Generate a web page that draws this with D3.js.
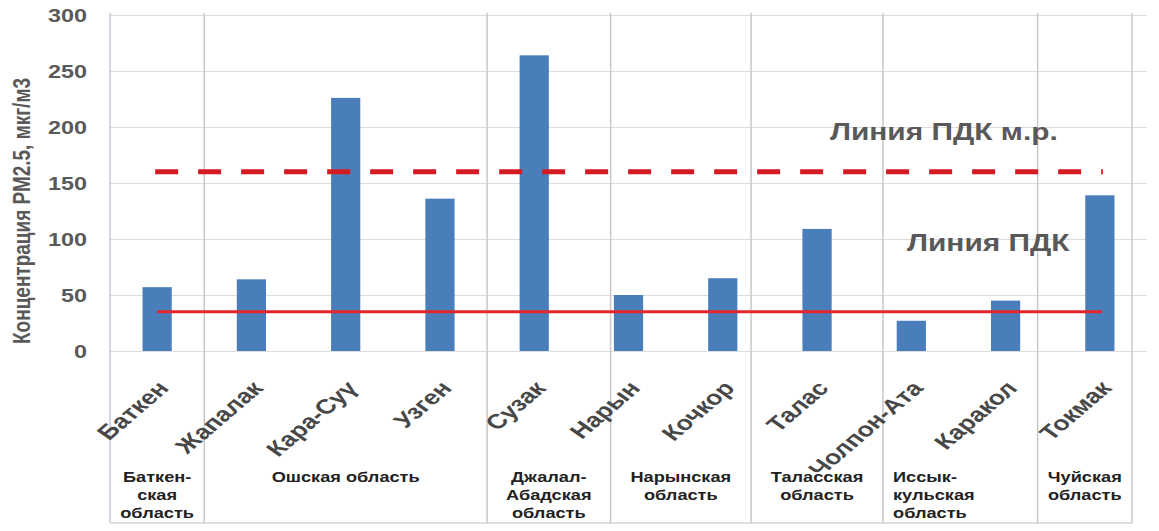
<!DOCTYPE html>
<html><head><meta charset="utf-8">
<script src="https://cdn.jsdelivr.net/npm/d3@7"></script>
<style>html,body{margin:0;padding:0;background:#fff;} svg{display:block;}</style>
</head><body><svg id="chart"></svg>
<script>
// Monitoring stations and measured PM2.5 concentration, µg/m3
const stations = ["Баткен","Жапалак","Кара-Суү","Узген","Сузак","Нарын","Кочкор","Талас","Чолпон-Ата","Каракол","Токмак"];
const pm25 = [57, 64, 226, 136, 264, 50, 65, 109, 27, 45, 139];
const yTicks = [0, 50, 100, 150, 200, 250, 300];
const pdkDaily = 35;     // ПДК (среднесуточная)
const pdkMax = 160;      // ПДК м.р. (максимально разовая)
const lineLabels = ["Линия ПДК м.р.", "Линия ПДК"];
const yTitle = "Концентрация РМ2.5, мкг/м3";
// Oblasts and number of stations in each, in station order
const regionLabels = [["Баткен-","ская","область"],["Ошская область"],["Джалал-","Абадская","область"],["Нарынская","область"],["Таласская","область"],["Иссык-","кульская","область"],["Чуйская","область"]];
const regionSizes = [1, 3, 1, 2, 1, 2, 1];

const W = 1159, H = 531;
const SX = 1.3;                 // the whole drawing is stretched 1.3x horizontally
const VW = W / SX;
const px = v => v / SX;         // screen px -> view units (horizontal)

const svg = d3.select("#chart")
  .attr("width", W).attr("height", H)
  .attr("viewBox", `0 0 ${VW} ${H}`)
  .attr("preserveAspectRatio", "none");

const plot = { left: px(110), right: px(1147), top: 15, bottom: 351 };
const FONT = "'Liberation Sans', Arial, sans-serif";

const x = d3.scaleBand().domain(stations).range([plot.left, plot.right])
  .paddingInner(0.69).paddingOuter(0.345);
const y = d3.scaleLinear().domain([0, 300]).range([plot.bottom, plot.top]);
const cx = s => x(s) + x.bandwidth() / 2;

// horizontal gridlines + value labels
const yAxis = svg.append("g").attr("transform", `translate(${plot.left},0)`)
  .call(d3.axisLeft(y).tickValues(yTicks).tickSize(-(plot.right - plot.left)).tickPadding(px(23)));
yAxis.select(".domain").remove();
yAxis.selectAll(".tick line").attr("stroke", "#dcdcdc").attr("stroke-width", 1);
yAxis.selectAll(".tick text")
  .attr("font-family", FONT).attr("font-weight", "bold").attr("font-size", 18)
  .attr("fill", "#595959").attr("dy", "0.36em");

// table of oblasts under the axis
const cum = [0, ...d3.cumsum(regionSizes)];
const edgeNudge = [0, 0, 0, 0.31, -0.2, 0.2, -0.16, -0.16];
const edges = cum.map((k, i) => plot.left + x.step() * (k + edgeNudge[i]));
const tableTop = 13, tableBottom = 523;

svg.append("line")
  .attr("x1", edges[0]).attr("x2", edges[edges.length - 1])
  .attr("y1", tableBottom).attr("y2", tableBottom)
  .attr("stroke", "#d2d2d2").attr("stroke-width", 1.5);

svg.selectAll("line.sep").data(edges).join("line").attr("class", "sep")
  .attr("x1", d => d).attr("x2", d => d)
  .attr("y1", tableTop).attr("y2", tableBottom)
  .attr("stroke", (d, i) => i === 0 ? "#c3cad4" : "#c8c8c8")
  .attr("stroke-width", 1.5)
  .attr("vector-effect", "non-scaling-stroke");

const regionAlign = ["middle","middle","middle","middle","middle","start","middle"];
const rg = svg.append("g").attr("font-family", FONT).attr("font-weight", "bold")
  .attr("font-size", 14).attr("fill", "#222");
regionLabels.forEach((lines, i) => {
  const left = regionAlign[i] === "start";
  const tx = left ? edges[i] + px(10) : (edges[i] + edges[i + 1]) / 2;
  const t = rg.append("text").attr("text-anchor", left ? "start" : "middle");
  lines.forEach((ln, j) => t.append("tspan").attr("x", tx).attr("y", 482 + j * 18).text(ln));
});

// bars
svg.append("g").selectAll("rect").data(stations).join("rect")
  .attr("x", s => x(s)).attr("width", x.bandwidth())
  .attr("y", (s, i) => y(pm25[i]))
  .attr("height", (s, i) => y(0) - y(pm25[i]))
  .attr("fill", "#4a7ebb");

// station names, rotated
svg.append("g").selectAll("text").data(stations).join("text")
  .attr("transform", s => `translate(${cx(s) + px(13)},389) rotate(-48)`)
  .attr("text-anchor", "end")
  .attr("font-family", FONT).attr("font-weight", "bold").attr("font-size", 20.5)
  .attr("fill", "#474747")
  .text(s => s);

// limit lines
const xs = [cx(stations[0]), cx(stations[stations.length - 1])];
svg.append("line")
  .attr("x1", xs[0]).attr("x2", xs[1] + px(2))
  .attr("y1", y(pdkDaily)).attr("y2", y(pdkDaily))
  .attr("stroke", "#e3262b").attr("stroke-width", 3);
svg.append("line")
  .attr("x1", xs[0] - px(2)).attr("x2", xs[1] + px(3))
  .attr("y1", y(pdkMax)).attr("y2", y(pdkMax))
  .attr("stroke", "#d51b22").attr("stroke-width", 5)
  .attr("stroke-dasharray", `${px(23)} ${px(20)}`);

// limit line captions
const cap = svg.append("g").attr("font-family", FONT).attr("font-weight", "bold")
  .attr("font-size", 23).attr("fill", "#595959");
cap.append("text").attr("x", px(830)).attr("y", 140).text(lineLabels[0]);
cap.append("text").attr("x", px(907)).attr("y", 251).text(lineLabels[1]);

// y-axis title
svg.append("text")
  .attr("transform", `translate(${px(30)},211) rotate(-90)`)
  .attr("text-anchor", "middle")
  .attr("font-family", FONT).attr("font-weight", "bold").attr("font-size", 19)
  .attr("fill", "#595959")
  .text(yTitle);
</script>
</body></html>
